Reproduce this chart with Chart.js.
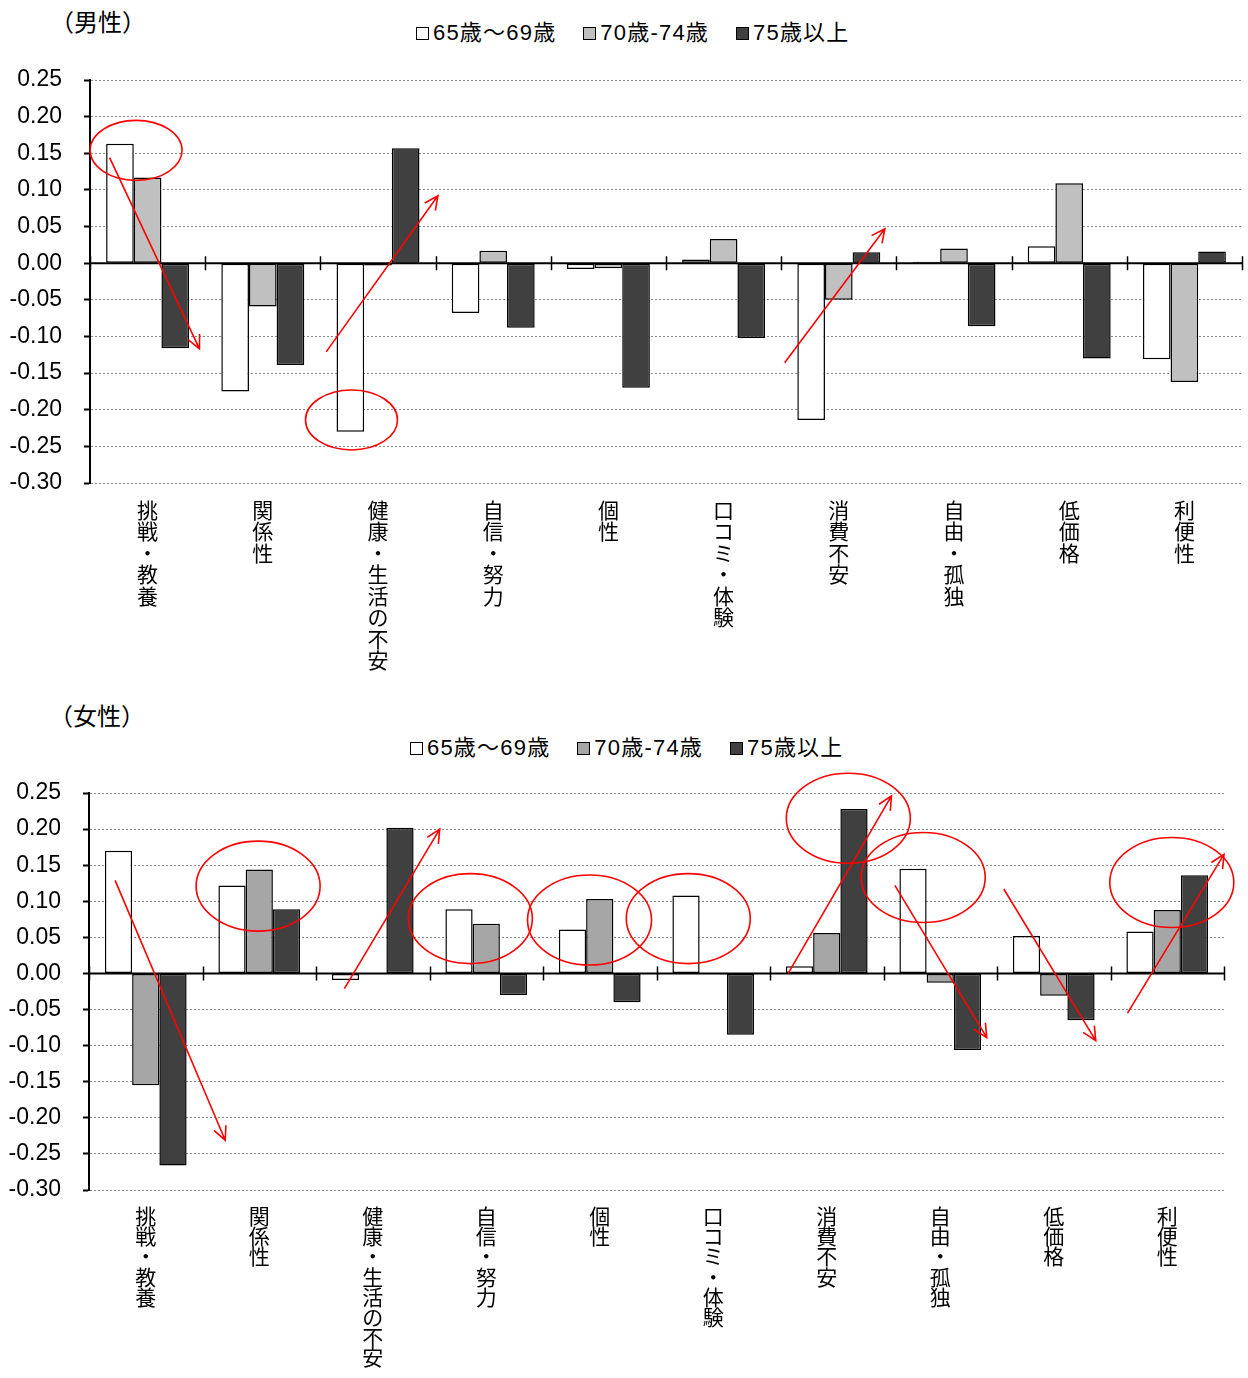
<!DOCTYPE html>
<html lang="ja">
<head>
<meta charset="utf-8">
<title>年齢階級別 因子得点（男性・女性）</title>
<script src="https://cdn.jsdelivr.net/npm/chart.js@4.4.1/dist/chart.umd.min.js"></script>
<style>
  html, body { margin: 0; padding: 0; background: #fff; }
  body { position: relative; width: 1248px; height: 1378px; overflow: hidden;
         font-family: "Liberation Sans", Arial, "Noto Sans CJK JP", sans-serif; color: #000; }
  .panel-title { position: absolute; font-size: 24px; line-height: 1; white-space: nowrap;
                 font-family: "Noto Sans CJK JP", sans-serif; }
  .legend { position: absolute; display: flex; align-items: center; white-space: nowrap;
            font-size: 22px; line-height: 1; letter-spacing: 1.2px; }
  .legend .item { display: flex; align-items: center; margin-right: 27px; }
  .legend .item:last-child { margin-right: 0; }
  .legend .box { width: 11px; height: 11px; border: 1px solid #000; margin-right: 4px; box-sizing: content-box; }
  .legend .txt { font-family: "Liberation Sans", Arial, "Noto Sans CJK JP", sans-serif; }
  canvas { position: absolute; left: 0; }
</style>
</head>
<body>
<div class="panel-title" style="left:50px; top:9px;">（男性）</div>
<div class="legend" id="legendMale" style="left:416px; top:22px;"></div>
<canvas id="maleChart" width="1248" height="690" style="top:0;"></canvas>

<div class="panel-title" style="left:49px; top:703px;">（女性）</div>
<div class="legend" id="legendFemale" style="left:410px; top:737px;"></div>
<canvas id="femaleChart" width="1248" height="678" style="top:700px;"></canvas>

<script>
// Categories (factor names) and age groups
const categories = ['挑戦・教養', '関係性', '健康・生活の不安', '自信・努力', '個性',
                    '口コミ・体験', '消費不安', '自由・孤独', '低価格', '利便性'];
const seriesNames = ['65歳～69歳', '70歳-74歳', '75歳以上'];

// Male scores by age group
const male65 = [0.163, -0.175, -0.230, -0.068, -0.008, 0.005, -0.214, 0.002, 0.023, -0.131];
const male70 = [0.117, -0.059, -0.003, 0.017, -0.007, 0.033, -0.050, 0.020, 0.109, -0.162];
const male75 = [-0.116, -0.139, 0.157, -0.088, -0.170, -0.102, 0.015, -0.086, -0.130, 0.016];

// Female scores by age group
const female65 = [0.170, 0.122, -0.009, 0.089, 0.061, 0.108, 0.010, 0.145, 0.052, 0.058];
const female70 = [-0.155, 0.144, -0.001, 0.069, 0.103, -0.001, 0.056, -0.013, -0.031, 0.088];
const female75 = [-0.266, 0.089, 0.202, -0.030, -0.040, -0.085, 0.228, -0.106, -0.065, 0.136];

// Value axis range and tick step
const yMin = -0.30;
const yMax = 0.25;
const yStep = 0.05;

// Highlights: ellipses and trend arrows, in (category index, value) units
const maleEllipses = [
  { x: -0.10, y: 0.154 },
  { x: 1.77, y: -0.214 }
];
const maleArrows = [
  { x1: -0.33, y1: 0.144, x2: 0.45, y2: -0.117 },
  { x1: 1.55, y1: -0.121, x2: 2.52, y2: 0.092 },
  { x1: 5.53, y1: -0.136, x2: 6.40, y2: 0.047 }
];
const femaleEllipses = [
  { x: 0.99, y: 0.121 },
  { x: 2.86, y: 0.076 },
  { x: 3.91, y: 0.074 },
  { x: 4.78, y: 0.076 },
  { x: 6.19, y: 0.215 },
  { x: 6.85, y: 0.133 },
  { x: 9.04, y: 0.126 }
];
const femaleArrows = [
  { x1: -0.27, y1: 0.129, x2: 0.70, y2: -0.231 },
  { x1: 1.75, y1: -0.021, x2: 2.59, y2: 0.200 },
  { x1: 5.66, y1: 0.000, x2: 6.57, y2: 0.246 },
  { x1: 6.60, y1: 0.122, x2: 7.41, y2: -0.089 },
  { x1: 7.56, y1: 0.117, x2: 8.37, y2: -0.093 },
  { x1: 8.65, y1: -0.055, x2: 9.50, y2: 0.165 }
];

// Zero line with category boundary ticks crossing it
const zeroAxisPlugin = {
  id: 'zeroAxis',
  afterDatasetsDraw(chart) {
    const { ctx, chartArea, scales: { x, y } } = chart;
    const y0 = y.getPixelForValue(0);
    ctx.save();
    ctx.strokeStyle = '#000';
    ctx.lineWidth = 2;
    ctx.beginPath();
    ctx.moveTo(chartArea.left, y0);
    ctx.lineTo(chartArea.right, y0);
    ctx.stroke();
    ctx.lineWidth = 1.5;
    ctx.beginPath();
    for (let i = 0; i <= categories.length; i++) {
      const px = Math.round(x.getPixelForValue(i - 0.5)) + 0.5;
      ctx.moveTo(px, y0 - 7);
      ctx.lineTo(px, y0 + 7);
    }
    ctx.stroke();
    ctx.restore();
  }
};

// Red ellipses and arrows placed through the chart scales
const highlightPlugin = {
  id: 'highlights',
  afterDatasetsDraw(chart, args, opts) {
    const { ctx, scales: { x, y } } = chart;
    ctx.save();
    ctx.strokeStyle = opts.color;
    ctx.lineWidth = opts.lineWidth;
    (opts.ellipses || []).forEach(e => {
      ctx.beginPath();
      ctx.ellipse(x.getPixelForValue(e.x), y.getPixelForValue(e.y), opts.rx, opts.ry, 0, 0, Math.PI * 2);
      ctx.stroke();
    });
    (opts.arrows || []).forEach(a => {
      const x1 = x.getPixelForValue(a.x1), y1 = y.getPixelForValue(a.y1);
      const x2 = x.getPixelForValue(a.x2), y2 = y.getPixelForValue(a.y2);
      ctx.beginPath();
      ctx.moveTo(x1, y1);
      ctx.lineTo(x2, y2);
      const ang = Math.atan2(y2 - y1, x2 - x1);
      const L = opts.head, spread = 0.45;
      ctx.moveTo(x2 - L * Math.cos(ang - spread), y2 - L * Math.sin(ang - spread));
      ctx.lineTo(x2, y2);
      ctx.lineTo(x2 - L * Math.cos(ang + spread), y2 - L * Math.sin(ang + spread));
      ctx.stroke();
    });
    ctx.restore();
  }
};

function buildLegend(el, colors) {
  seriesNames.forEach((name, i) => {
    const item = document.createElement('div');
    item.className = 'item';
    const box = document.createElement('span');
    box.className = 'box';
    box.style.background = colors[i];
    const txt = document.createElement('span');
    txt.className = 'txt';
    txt.textContent = name;
    item.appendChild(box);
    item.appendChild(txt);
    el.appendChild(item);
  });
}

function makeChart(canvasId, series, colors, layout, ellipses, arrows, ellipseSize) {
  const datasets = series.map((vals, i) => ({
    label: seriesNames[i],
    data: vals,
    backgroundColor: colors[i],
    borderColor: '#000',
    borderWidth: 1.5,
    borderSkipped: false,
    categoryPercentage: 0.72,
    barPercentage: 1.0
  }));
  return new Chart(document.getElementById(canvasId), {
    type: 'bar',
    data: { labels: categories.map(c => Array.from(c)), datasets },
    options: {
      responsive: false,
      animation: false,
      devicePixelRatio: 1,
      layout: { padding: { top: layout.top, right: layout.right, left: 0, bottom: 0 } },
      plugins: {
        legend: { display: false },
        tooltip: { enabled: false },
        highlights: {
          ellipses, arrows, color: '#ff0000', lineWidth: 1.6,
          rx: ellipseSize.rx, ry: ellipseSize.ry, head: 15
        }
      },
      scales: {
        x: {
          offset: true,
          grid: { display: false, drawTicks: false },
          border: { display: false },
          ticks: {
            autoSkip: false,
            maxRotation: 0,
            minRotation: 0,
            padding: 16,
            color: '#000',
            font: { family: '"Noto Sans CJK JP", sans-serif', size: 21, lineHeight: layout.labelLine + 'px' }
          },
          afterFit(scale) { scale.height = layout.xHeight; }
        },
        y: {
          min: yMin,
          max: yMax,
          grid: {
            color: '#8a8a8a',
            lineWidth: 1,
            drawTicks: true,
            tickLength: 6,
            tickColor: '#000',
            tickWidth: 2
          },
          border: { display: true, color: '#000', width: 2, dash: [2, 2] },
          ticks: {
            stepSize: yStep,
            padding: 22,
            color: '#000',
            font: { family: '"Liberation Sans", Arial, sans-serif', size: 23 },
            callback: v => Number(v).toFixed(2)
          },
          afterFit(scale) { scale.width = layout.yWidth; }
        }
      }
    },
    plugins: [zeroAxisPlugin, highlightPlugin]
  });
}

buildLegend(document.getElementById('legendMale'), ['#ffffff', '#c0c0c0', '#404040']);
buildLegend(document.getElementById('legendFemale'), ['#ffffff', '#a6a6a6', '#404040']);

makeChart('maleChart', [male65, male70, male75], ['#ffffff', '#c0c0c0', '#404040'],
  { top: 80, right: 6, xHeight: 207, yWidth: 90, labelLine: 21.5 },
  maleEllipses, maleArrows, { rx: 46, ry: 30 });

makeChart('femaleChart', [female65, female70, female75], ['#ffffff', '#a6a6a6', '#404040'],
  { top: 93, right: 24, xHeight: 188, yWidth: 89, labelLine: 20.2 },
  femaleEllipses, femaleArrows, { rx: 62, ry: 45 });
</script>
</body>
</html>
